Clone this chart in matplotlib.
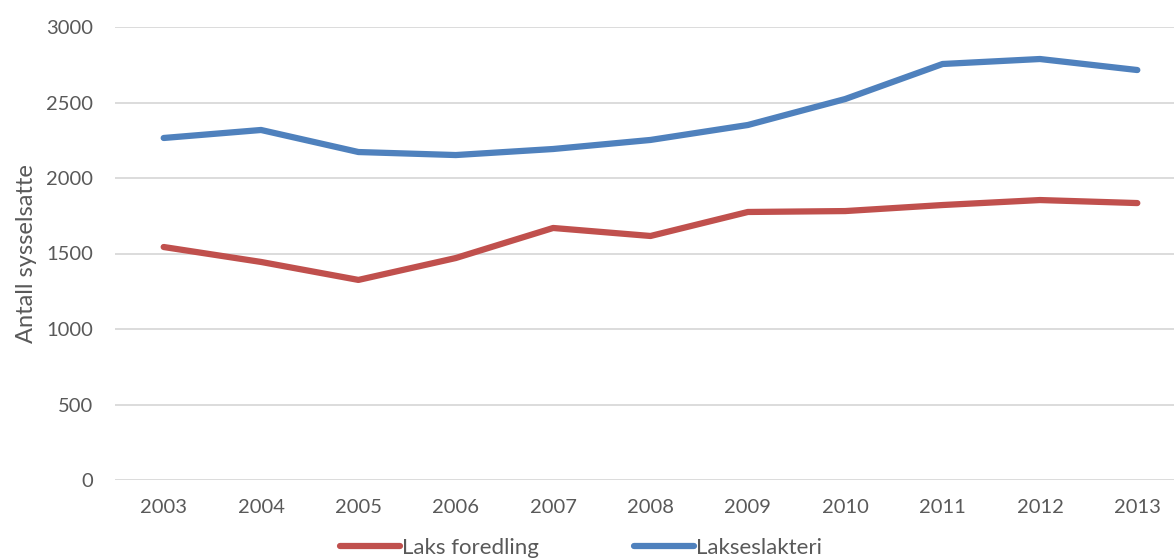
import matplotlib.pyplot as plt

years = [2003, 2004, 2005, 2006, 2007, 2008, 2009, 2010, 2011, 2012, 2013]
laks_foredling = [1543, 1444, 1325, 1470, 1669, 1616, 1775, 1781, 1821, 1854, 1834]
lakseslakteri = [2265, 2318, 2172, 2152, 2192, 2252, 2351, 2523, 2755, 2788, 2715]

plt.rcParams['font.family'] = ['Lato', 'DejaVu Sans']
txt = '#595959'

fig = plt.figure(figsize=(11.74, 5.6), dpi=100)
ax = fig.add_axes([115 / 1174, 1 - 480 / 560, (1186 - 115) / 1174, (480 - 27) / 560])

ax.plot(years, laks_foredling, color='#C0504D', lw=4.5, solid_capstyle='round', label='Laks foredling')
ax.plot(years, lakseslakteri, color='#4F81BD', lw=4.5, solid_capstyle='round', label='Lakseslakteri')

ax.set_xlim(2002.5, 2013.5)
ax.set_ylim(0, 3000)
ax.set_yticks(range(0, 3001, 500))
ax.set_xticks(years)
ax.grid(axis='y', color='#D9D9D9', lw=1.3)
ax.set_axisbelow(True)
for s in ax.spines.values():
    s.set_visible(False)
ax.tick_params(length=0, labelsize=14.5, colors=txt, pad=14)
ax.tick_params(axis='y', pad=16)
ax.set_ylabel('Antall sysselsatte', fontsize=17, color=txt, labelpad=6)

leg = fig.legend(loc='center', bbox_to_anchor=(581 / 1174, 1 - 548 / 560), ncol=2, frameon=False,
                 fontsize=16, handlelength=2.7, handletextpad=0.1, columnspacing=4.3)
for t in leg.get_texts():
    t.set_color(txt)

fig.savefig('out.png', dpi=100)
